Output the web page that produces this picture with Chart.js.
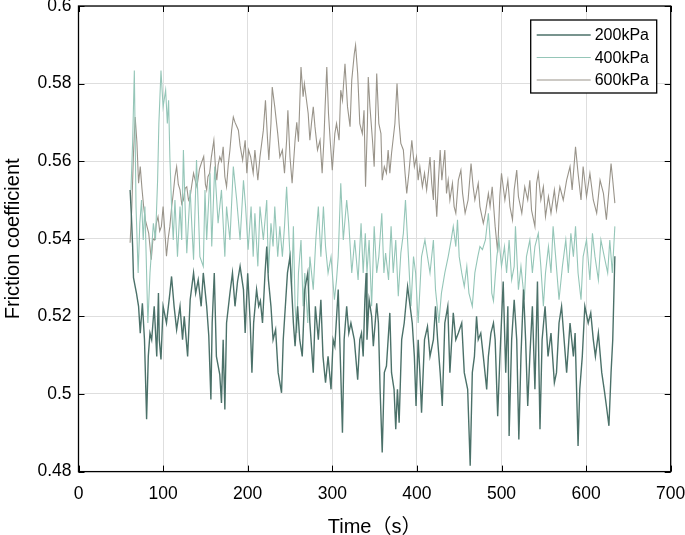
<!DOCTYPE html>
<html>
<head>
<meta charset="utf-8">
<script src="https://cdn.jsdelivr.net/npm/chart.js@4.4.0/dist/chart.umd.min.js"></script>
<style>
  html, body { margin: 0; padding: 0; background: #fff; }
  #wrap { width: 685px; height: 535px; position: relative; }
</style>
</head>
<body>
<div id="wrap"><canvas id="frictionChart"></canvas></div>
<script>
// axis ranges / ticks
const xMin = 0, xMax = 700, xStep = 100;
const yMin = 0.48, yMax = 0.6, yStep = 0.02;

const seriesNames = ['200kPa', '400kPa', '600kPa'];
const seriesColors = ['#4b7169', '#95c6b8', '#99948a'];
const seriesWidths = [1.4, 1.1, 1.1];

// [time (s), friction coefficient]
const s200 = [
  [61,0.5526],[62.5,0.546],[64,0.538],[65,0.530],[67,0.5277],[68.5,0.526],[71,0.5226],[73,0.5157],[75.5,0.5234],[78,0.514],
  [80.5,0.4935],[82.5,0.5097],[84.5,0.5157],[86.5,0.514],[89.5,0.5226],[92.5,0.5097],[94.5,0.526],[95.5,0.514],[97.5,0.5089],[100,0.5226],
  [104,0.5183],[108,0.526],[110,0.5303],[113,0.5226],[116,0.5166],[120,0.5226],[123,0.514],[125,0.52],[129,0.5097],[132,0.5243],
  [136,0.5312],[138.5,0.526],[141.5,0.5294],[145,0.5226],[147.5,0.5312],[151.5,0.5226],[154,0.515],[156.5,0.4986],[158,0.5183],[160.5,0.5312],
  [163,0.5097],[167,0.505],[169,0.4977],[171,0.514],[173,0.496],[175,0.5183],[179,0.526],[182,0.5312],[185,0.5226],[188,0.529],
  [191,0.5329],[195,0.5269],[197,0.5157],[200,0.5311],[203,0.5183],[205,0.5055],[207,0.5183],[210.5,0.5269],[213,0.5226],[215,0.524],
  [217.5,0.5183],[220.5,0.5312],[222.5,0.538],[224.5,0.5294],[227.5,0.5226],[230,0.514],[233,0.5166],[236,0.5055],[240,0.5003],[242,0.514],
  [245,0.5243],[247,0.5312],[250,0.5354],[252,0.5269],[254,0.5183],[256,0.5123],[259,0.5226],[261.5,0.514],[264.5,0.5097],[267.5,0.5269],
  [271,0.5312],[273.5,0.5183],[277.5,0.5055],[280,0.5226],[283.5,0.514],[286.5,0.5243],[289,0.5097],[292,0.5029],[295,0.5097],[298.5,0.5012],
  [301,0.514],[303,0.5123],[307,0.5269],[310,0.5055],[312,0.49],[314,0.514],[317,0.5226],[319.5,0.5157],[322,0.5183],[326,0.514],
  [330,0.5037],[332.5,0.514],[334.5,0.5157],[336.5,0.5097],[338.5,0.5243],[340,0.5312],[341,0.514],[343.5,0.5243],[346.5,0.52],[348.5,0.5123],
  [352.5,0.5234],[354.5,0.5183],[356.5,0.5012],[359,0.4849],[361.5,0.5055],[364,0.5072],[368,0.5209],[370,0.5055],[373,0.5012],[375,0.4909],
  [377,0.5012],[379,0.4926],[382,0.514],[385,0.5183],[389,0.5277],[392,0.5226],[394.5,0.5183],[397,0.5097],[399,0.4969],[401.5,0.514],
  [403.5,0.5055],[405.5,0.4952],[409,0.514],[412.5,0.5174],[415.5,0.5097],[419.5,0.514],[422,0.5226],[424.5,0.514],[427.5,0.5055],[430,0.4969],
  [433,0.5183],[436.5,0.5226],[439,0.5055],[443,0.5209],[446,0.514],[449,0.5157],[453,0.5183],[456,0.5055],[460,0.5012],[463,0.4815],
  [465.5,0.5055],[468,0.5097],[470.5,0.52],[472.5,0.514],[475.5,0.5157],[478.5,0.5097],[482.5,0.5012],[484.5,0.5097],[487.5,0.5157],[490.5,0.5183],
  [492.5,0.514],[495.5,0.4943],[498,0.5089],[502,0.529],[505,0.5055],[507.5,0.5226],[509,0.4892],[512,0.514],[515,0.5243],[518,0.514],
  [520.5,0.4883],[523,0.5097],[526,0.5269],[528.5,0.514],[531,0.4969],[533.5,0.5097],[536.5,0.5226],[539.5,0.5012],[542.5,0.529],[545.5,0.4909],
  [548,0.514],[551.5,0.5226],[555,0.5097],[558.5,0.5157],[562.5,0.5029],[565,0.5055],[568,0.5183],[571,0.5226],[574,0.514],[577,0.5055],
  [581,0.5183],[585,0.5097],[587,0.5157],[590.5,0.4866],[592.5,0.5012],[595.5,0.5097],[598.5,0.5226],[602.5,0.5183],[605.5,0.5209],[608.5,0.514],
  [611,0.5097],[614.5,0.5157],[618.5,0.5055],[621.5,0.501],[624,0.4969],[627,0.4918],[629.5,0.5055],[631.5,0.514],[634,0.5355]
];

const s400 = [
  [62,0.5526],[64,0.565],[66,0.5834],[68,0.5483],[70.5,0.5312],[72.5,0.544],[74.5,0.55],[76.5,0.5397],[78.5,0.5483],[82,0.5183],
  [84.5,0.5312],[88.5,0.544],[91,0.5397],[93.5,0.5551],[95,0.5697],[97.5,0.5834],[100,0.574],[103,0.5783],[105,0.5697],[106.5,0.5757],
  [108,0.5611],[110,0.5483],[112,0.5397],[114,0.55],[117,0.5354],[120,0.5483],[122,0.5397],[124,0.5629],[126,0.5483],[128,0.5363],
  [132,0.5526],[134,0.5432],[136,0.5346],[139.5,0.5603],[141.5,0.5483],[143.5,0.5354],[147.5,0.5329],[149.5,0.5526],[151.5,0.5397],[155.5,0.5569],
  [157.5,0.538],[161,0.5586],[165,0.544],[169,0.5526],[173,0.5354],[175,0.5483],[179,0.5397],[183,0.5586],[187,0.55],[191,0.5397],
  [195,0.5551],[197.5,0.5483],[200.5,0.5372],[204,0.5483],[206.5,0.5354],[208.5,0.5466],[212,0.5329],[214.5,0.5483],[218.5,0.5397],[222.5,0.55],
  [224.5,0.5312],[227.5,0.544],[230,0.538],[232,0.5483],[235.5,0.5354],[238,0.5432],[241,0.5354],[243.5,0.5432],[246,0.5534],[249,0.5397],
  [252,0.5269],[254,0.5432],[256,0.5226],[258,0.5157],[260,0.5312],[263,0.5397],[265.5,0.5226],[267.5,0.5312],[271,0.5183],[273.5,0.5354],
  [277.5,0.5269],[280.5,0.5397],[283.5,0.5483],[286.5,0.5354],[289.5,0.5483],[292,0.538],[295,0.5312],[298.5,0.5354],[302.5,0.5243],[305,0.5294],
  [307,0.5354],[310,0.5543],[313,0.5397],[317,0.55],[319.5,0.544],[323,0.5312],[326.5,0.5397],[330.5,0.5294],[334,0.544],[336.5,0.5312],
  [339,0.5414],[341,0.5312],[343.5,0.5397],[346.5,0.5226],[349.5,0.5432],[352.5,0.5312],[355,0.5354],[358.5,0.5466],[361,0.5312],[363,0.5363],
  [366.5,0.5294],[369.5,0.5432],[372,0.5312],[375,0.5397],[378,0.5252],[381,0.5363],[384,0.5414],[386.5,0.55],[390,0.5354],[393,0.5226],
  [396,0.5354],[398.5,0.5312],[401.5,0.5183],[405.5,0.5354],[409.5,0.5397],[412.5,0.5354],[415.5,0.5312],[419.5,0.5397],[422,0.5269],[426,0.5183],
  [429,0.526],[433,0.5312],[437,0.5354],[440.5,0.5397],[443,0.5432],[446,0.538],[448,0.5449],[450,0.5354],[453,0.5312],[456,0.5277],
  [459,0.5329],[461.5,0.526],[465.5,0.5226],[468.5,0.5312],[472,0.5354],[474.5,0.538],[477.5,0.5372],[481,0.5397],[484.5,0.5466],[486.5,0.54],
  [488.5,0.526],[490.5,0.524],[492.5,0.53],[494.5,0.5354],[497,0.5397],[500,0.5329],[503.5,0.538],[506,0.5312],[509,0.5397],[512,0.5294],
  [515,0.5329],[516.5,0.5432],[520,0.5269],[523,0.5329],[527,0.5243],[529.5,0.5354],[533.5,0.5397],[536.5,0.5312],[539.5,0.538],[543.5,0.5414],
  [546.5,0.5329],[549.5,0.5226],[552,0.5312],[555.5,0.538],[558.5,0.5312],[561,0.5432],[564,0.5354],[568,0.5243],[572,0.5329],[576,0.5397],
  [579,0.5312],[582,0.5414],[585,0.5354],[587.5,0.5432],[590.5,0.5312],[594,0.5243],[596.5,0.5354],[600.5,0.5397],[604.5,0.5294],[607.5,0.5414],
  [610.5,0.5354],[614.5,0.5294],[617.5,0.5397],[621.5,0.5354],[625.5,0.5312],[628,0.5397],[631,0.5312],[634,0.5432]
];

const s600 = [
  [61,0.539],[63,0.548],[65,0.562],[67,0.5714],[69,0.565],[71,0.5543],[73,0.5586],[75,0.553],[77,0.5483],[79,0.5449],
  [83,0.5414],[86,0.5346],[88,0.54],[90,0.5397],[92,0.544],[94,0.5457],[96,0.542],[98,0.5432],[100,0.5483],[102,0.542],
  [104,0.5355],[106,0.54],[108,0.5432],[110,0.548],[112,0.5517],[114,0.556],[116,0.5586],[118,0.554],[120,0.5526],[122,0.549],
  [124,0.55],[126,0.553],[128,0.5534],[130,0.55],[132,0.5509],[134,0.554],[136,0.5569],[138,0.555],[140,0.5534],[143,0.558],
  [146,0.56],[148,0.5612],[150,0.554],[151.5,0.5526],[153,0.556],[155,0.5569],[157,0.561],[160,0.5654],[162,0.558],[163.5,0.5551],
  [165,0.559],[167,0.5611],[169,0.56],[171,0.5637],[173,0.556],[175,0.5534],[177,0.559],[179,0.5629],[181,0.568],[183,0.5714],
  [185,0.57],[187,0.569],[189,0.568],[191,0.564],[194,0.5603],[197,0.5654],[199,0.5569],[201,0.5629],[203.5,0.5611],[206.5,0.5569],
  [208.5,0.5629],[212,0.5551],[214.5,0.5611],[218.5,0.568],[221,0.5757],[223.5,0.5654],[225,0.5603],[227.5,0.5697],[229,0.5791],[232,0.574],
  [235.5,0.5671],[238,0.5611],[241,0.5629],[243.5,0.5569],[246,0.5654],[247.5,0.5731],[250,0.5611],[252.5,0.5543],[256,0.5654],[258,0.57],
  [260,0.565],[263,0.5843],[265.5,0.5766],[267,0.58],[269.5,0.5757],[271.5,0.5723],[273.5,0.5654],[275.5,0.57],[277.5,0.574],[279.5,0.5689],
  [282.5,0.5629],[285.5,0.5654],[288,0.5569],[290,0.565],[291.5,0.574],[293.5,0.5843],[295.5,0.5723],[297.5,0.5654],[300,0.5577],[303,0.5671],
  [305,0.5697],[308,0.5654],[310,0.5783],[312,0.5757],[315,0.5851],[318,0.574],[321,0.5689],[323,0.5809],[326,0.5877],[327.5,0.5899],
  [330,0.5826],[332.5,0.5697],[335.5,0.5671],[337.5,0.5731],[339.3,0.5534],[341.5,0.5697],[342.5,0.5817],[344.5,0.574],[347.5,0.5654],[349.5,0.5586],
  [352.5,0.5826],[355,0.5697],[357.5,0.5671],[359,0.5551],[361.5,0.5586],[364,0.5569],[366,0.5629],[368,0.5569],[370,0.562],[374,0.5697],
  [376.5,0.58],[379,0.5697],[381,0.5646],[384,0.5629],[386,0.5569],[388,0.5517],[390.5,0.5569],[394,0.5654],[397,0.5586],[399.5,0.5611],
  [401.5,0.5551],[403.5,0.5586],[406.5,0.5534],[409,0.5569],[411.5,0.5526],[415.5,0.5611],[417.5,0.5543],[419.5,0.55],[420.5,0.5603],[422,0.5509],
  [423.5,0.5457],[425.5,0.5551],[427.5,0.5629],[429.5,0.5551],[433,0.5629],[435,0.5517],[437,0.5551],[439,0.55],[442,0.5543],[444,0.5483],
  [446,0.5466],[449,0.5551],[452,0.5577],[454,0.5517],[457,0.5466],[460.5,0.55],[464,0.5594],[466.5,0.5534],[468.5,0.55],[472.5,0.5543],
  [474.5,0.5483],[478.5,0.544],[481,0.5466],[484.5,0.5517],[486.5,0.5483],[489,0.5534],[492.5,0.5432],[495.5,0.5365],[498,0.5509],[500,0.5569],
  [504,0.55],[507.5,0.5551],[510,0.5483],[513,0.5449],[515,0.5526],[518,0.5577],[520,0.5509],[524,0.5466],[527.5,0.5534],[531,0.55],
  [533.5,0.5551],[535.5,0.5474],[539.5,0.5432],[541.5,0.5543],[543.5,0.5569],[546.5,0.55],[549.5,0.5534],[552,0.5457],[555.5,0.5509],[558.5,0.5466],
  [562.5,0.5526],[565,0.5474],[569,0.5534],[573,0.55],[577,0.5551],[581,0.5586],[583.5,0.5526],[587.5,0.5637],[590.5,0.5569],[594,0.55],
  [596.5,0.5586],[600.5,0.5509],[604.5,0.5569],[608.5,0.55],[612.5,0.5466],[616.5,0.5551],[620.5,0.5517],[624,0.5449],[627,0.5526],[629.5,0.5594],
  [631.5,0.5551],[634,0.5492]
];

const allSeries = [s200, s400, s600];
const fontFamily = '"Liberation Sans", Arial, "Noto Sans CJK SC", sans-serif';

// inward tick marks + black frame, like the original plot
const frameTicks = {
  id: 'frameTicks',
  afterDraw(chart) {
    const { ctx, chartArea: a, scales } = chart;
    const len = 6;
    ctx.save();
    ctx.strokeStyle = '#000';
    ctx.lineWidth = 1;
    ctx.beginPath();
    scales.x.ticks.forEach(t => {
      const px = Math.round(scales.x.getPixelForValue(t.value)) + 0.5;
      ctx.moveTo(px, a.bottom); ctx.lineTo(px, a.bottom - len);
      ctx.moveTo(px, a.top); ctx.lineTo(px, a.top + len);
    });
    scales.y.ticks.forEach(t => {
      const py = Math.round(scales.y.getPixelForValue(t.value)) + 0.5;
      ctx.moveTo(a.left, py); ctx.lineTo(a.left + len, py);
      ctx.moveTo(a.right, py); ctx.lineTo(a.right - len, py);
    });
    ctx.stroke();
    ctx.lineWidth = 1.3;
    ctx.strokeRect(a.left, a.top, a.right - a.left, a.bottom - a.top);
    ctx.restore();
  }
};

// boxed legend in the top right corner
const boxLegend = {
  id: 'boxLegend',
  afterDraw(chart) {
    const { ctx, chartArea: a } = chart;
    const w = 126, h = 73;
    const x = a.right - 14 - w, y = a.top + 14;
    ctx.save();
    ctx.fillStyle = '#fff';
    ctx.fillRect(x, y, w, h);
    ctx.strokeStyle = '#000';
    ctx.lineWidth = 1.3;
    ctx.strokeRect(x, y, w, h);
    ctx.font = '16px ' + fontFamily;
    ctx.textBaseline = 'middle';
    ctx.fillStyle = '#000';
    chart.data.datasets.forEach((ds, i) => {
      const ry = y + 15 + i * 22.5;
      ctx.strokeStyle = ds.borderColor;
      ctx.lineWidth = ds.borderWidth;
      ctx.beginPath();
      ctx.moveTo(x + 6, ry);
      ctx.lineTo(x + 60, ry);
      ctx.stroke();
      ctx.fillText(ds.label, x + 64, ry + 1);
    });
    ctx.restore();
  }
};

const ctx = document.getElementById('frictionChart').getContext('2d');
new Chart(ctx, {
  type: 'line',
  data: {
    datasets: allSeries.map((s, i) => ({
      label: seriesNames[i],
      data: s.map(p => ({ x: p[0], y: p[1] })),
      borderColor: seriesColors[i],
      borderWidth: seriesWidths[i],
      pointRadius: 0,
      tension: 0,
      fill: false
    }))
  },
  options: {
    responsive: true,
    maintainAspectRatio: false,
    animation: false,
    events: [],
    layout: { padding: { top: 6, right: 14.3, left: 0, bottom: 0 } },
    plugins: { legend: { display: false }, tooltip: { enabled: false } },
    scales: {
      x: {
        type: 'linear',
        min: xMin, max: xMax,
        afterFit: s => { s.height = 63.4; s.paddingLeft = 0; s.paddingRight = 0; },
        grid: { color: '#dedede', lineWidth: 1, drawTicks: false },
        border: { display: false },
        ticks: { stepSize: xStep, padding: 12, color: '#000', font: { family: fontFamily, size: 17.5 } },
        title: {
          display: true, text: 'Time（s）', color: '#000',
          font: { family: fontFamily, size: 20, lineHeight: 0.8 },
          padding: { top: 0, bottom: 0 }
        }
      },
      y: {
        min: yMin, max: yMax,
        afterFit: s => { s.width = 78.5; s.paddingTop = 0; s.paddingBottom = 0; },
        grid: { color: '#dedede', lineWidth: 1, drawTicks: false },
        border: { display: false },
        ticks: {
          stepSize: yStep, padding: 7, color: '#000',
          font: { family: fontFamily, size: 17.5 },
          callback: v => String(parseFloat(v.toFixed(2)))
        },
        title: {
          display: true, text: 'Friction coefficient', color: '#000',
          font: { family: fontFamily, size: 20 },
          padding: { top: 1, bottom: 0 }
        }
      }
    }
  },
  plugins: [frameTicks, boxLegend]
});
</script>
</body>
</html>
